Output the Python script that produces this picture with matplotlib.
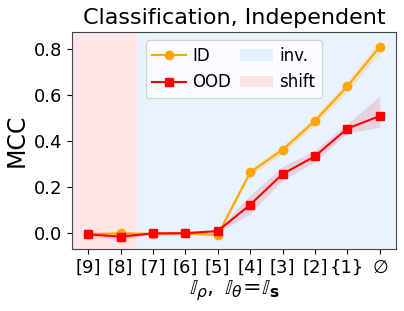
import matplotlib.pyplot as plt
import numpy as np

labels = ["[9]", "[8]", "[7]", "[6]", "[5]", "[4]", "[3]", "[2]", "{1}", r"$\varnothing$"]
id_mean = [-0.003, 0.0, -0.002, 0.0, -0.007, 0.264, 0.362, 0.487, 0.637, 0.808]
id_lo = [-0.01, -0.008, -0.008, -0.006, -0.014, 0.25, 0.345, 0.47, 0.615, 0.78]
id_hi = [0.004, 0.008, 0.004, 0.006, 0.0, 0.28, 0.38, 0.505, 0.66, 0.835]
ood_mean = [-0.004, -0.014, 0.0, 0.001, 0.01, 0.124, 0.257, 0.334, 0.454, 0.508]
ood_lo = [-0.012, -0.026, -0.006, -0.005, 0.002, 0.085, 0.23, 0.31, 0.435, 0.46]
ood_hi = [0.004, -0.002, 0.006, 0.007, 0.018, 0.165, 0.29, 0.36, 0.475, 0.595]
n_shift = 2

x = np.arange(len(labels))

fig, ax = plt.subplots(figsize=(4.04, 3.11), dpi=100)
fig.subplots_adjust(left=0.178, right=0.980, top=0.897, bottom=0.199)

# background regions
ax.axvspan(-0.5, n_shift - 0.5, color="red", alpha=0.1, lw=0, label="shift")
ax.axvspan(n_shift - 0.5, len(labels) - 0.5, color="dodgerblue", alpha=0.1, lw=0, label="inv.")

ax.fill_between(x, id_lo, id_hi, color="orange", alpha=0.2, lw=0)
ax.fill_between(x, ood_lo, ood_hi, color="crimson", alpha=0.15, lw=0)
ax.plot(x, id_mean, color="orange", marker="o", ms=6, lw=1.5, label="ID")
ax.plot(x, ood_mean, color="red", marker="s", ms=6, lw=1.5, label="OOD")

ax.set_xlim(-0.5, len(labels) - 0.5)
ax.set_ylim(-0.068, 0.872)
ax.set_xticks(x)
ax.set_xticklabels(labels, fontsize=13)
ax.set_yticks([0.0, 0.2, 0.4, 0.6, 0.8])
ax.tick_params(axis="y", labelsize=13)
ax.set_ylabel("MCC", fontsize=17)
ax.set_xlabel(r"$\mathbb{I}_{\rho},\;\mathbb{I}_{\theta}\!=\!\mathbb{I}_{\mathbf{s}}$", fontsize=16, labelpad=1)
ax.set_title("Classification, Independent", fontsize=16)
for s in ax.spines.values():
    s.set_color("#444444")

h, lab = ax.get_legend_handles_labels()
order = [lab.index("ID"), lab.index("OOD"), lab.index("inv."), lab.index("shift")]
ax.legend([h[i] for i in order], [lab[i] for i in order], ncol=2, fontsize=12,
          loc="upper center", bbox_to_anchor=(0.5, 1.0),
          columnspacing=0.5, handletextpad=0.4)

fig.savefig("out.png", dpi=100)
